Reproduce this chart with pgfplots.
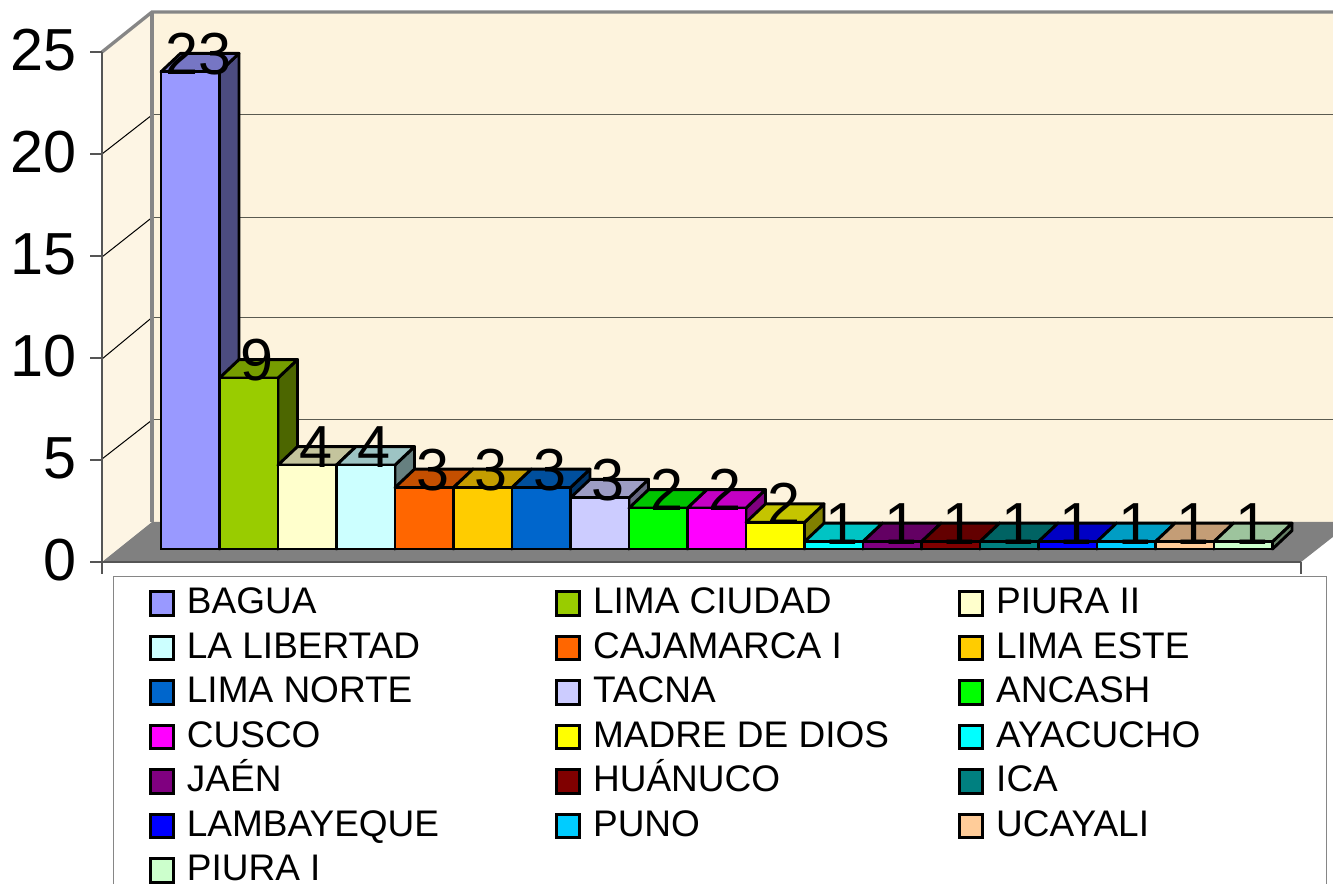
\documentclass[border=0pt]{standalone}
\usepackage{fontspec}
\setmainfont{Liberation Sans}
\usepackage{pgfplots}
\pgfplotsset{compat=1.18}
\definecolor{wall}{HTML}{FDF3DD}
\definecolor{floorc}{HTML}{808080}
\definecolor{edge}{HTML}{868686}
\definecolor{gridc}{HTML}{5A5A50}
\definecolor{axc}{HTML}{555555}
\definecolor{c0}{HTML}{9999FF}
\definecolor{c1}{HTML}{99CC00}
\definecolor{c2}{HTML}{FFFFCC}
\definecolor{c3}{HTML}{CCFFFF}
\definecolor{c4}{HTML}{FF6600}
\definecolor{c5}{HTML}{FFCC00}
\definecolor{c6}{HTML}{0066CC}
\definecolor{c7}{HTML}{CCCCFF}
\definecolor{c8}{HTML}{00FF00}
\definecolor{c9}{HTML}{FF00FF}
\definecolor{c10}{HTML}{FFFF00}
\definecolor{c11}{HTML}{00FFFF}
\definecolor{c12}{HTML}{800080}
\definecolor{c13}{HTML}{800000}
\definecolor{c14}{HTML}{008080}
\definecolor{c15}{HTML}{0000FF}
\definecolor{c16}{HTML}{00CCFF}
\definecolor{c17}{HTML}{FFCC99}
\definecolor{c18}{HTML}{CCFFCC}
\pgfplotsset{
  mybar/.style={ybar, bar width=1, bar shift=0pt, draw=black, line width=1.75pt,
    /pgfplots/legend image code/.code={%
      \draw[##1, line width=1.8pt] (0.8pt,-0.9pt) rectangle (14.6pt,13.1pt);
      \path[draw=none, fill=none] (0pt,0pt) -- (22.8pt,0pt);}},
}
% i, plotted value, colour, legend text, width of the legend text cell
\newcommand\threeD[5]{%
  \pgfmathsetmacro\xa{#1-0.5}\pgfmathsetmacro\xb{#1+0.5}%
  \pgfmathsetmacro\xc{#1+0.5+0.3333}\pgfmathsetmacro\xd{#1-0.5+0.3333}%
  \pgfmathsetmacro\ya{#2+0.9}%
  \addplot[forget plot, fill=#3!50!black, draw=black, line width=1.75pt, line join=round]
    coordinates {(\xb,0) (\xc,0.9) (\xc,\ya) (\xb,#2)} --cycle;
  \addplot[forget plot, fill=#3!77!black, draw=black, line width=1.75pt, line join=round]
    coordinates {(\xa,#2) (\xb,#2) (\xc,\ya) (\xd,\ya)} --cycle;
  \addplot[mybar, fill=#3] coordinates {(#1,#2)};
  \addlegendentry{\makebox[#5pt][l]{#4}}
}
\begin{document}
\begin{tikzpicture}
\path[use as bounding box, clip] (0,0) rectangle (799.8pt,529.8pt);
% walls and floor, in pixel positions
\begin{axis}[at={(0,0)}, anchor=south west, scale only axis, width=799.8pt, height=529.8pt,
  xmin=0, xmax=1333, ymin=0, ymax=883, y dir=reverse, hide axis, clip=false]
\addplot[fill=wall, draw=none] coordinates {(152,12) (1352,12) (1352,522) (152,522)} --cycle;
\addplot[fill=wall!80!white, draw=none] coordinates {(102,52) (152,12) (152,522) (102,562)} --cycle;
\addplot[fill=floorc, draw=none] coordinates {(102,562) (152,522) (1352,522) (1301,562)} --cycle;
\addplot[gridc, line width=0.6pt] coordinates {(152,115) (1340,115)};
\addplot[gridc, line width=0.6pt] coordinates {(152,217.5) (1340,217.5)};
\addplot[gridc, line width=0.6pt] coordinates {(152,317.5) (1340,317.5)};
\addplot[gridc, line width=0.6pt] coordinates {(152,420) (1340,420)};
\addplot[black, line width=0.6pt] coordinates {(102,154) (152,115)};
\addplot[black, line width=0.6pt] coordinates {(102,257) (152,217.5)};
\addplot[black, line width=0.6pt] coordinates {(102,359) (152,317.5)};
\addplot[black, line width=0.6pt] coordinates {(102,459) (152,420)};
\addplot[edge, line width=2pt] coordinates {(102,52) (152,12) (1340,12)};
\addplot[edge, line width=2pt] coordinates {(152,12) (152,522)};
\end{axis}
% front value axis
\begin{axis}[at={(61.2pt,192.6pt)}, anchor=south west, scale only axis, width=719.4pt, height=306pt,
  xmin=0, xmax=1, ymin=0, ymax=25, axis x line=bottom, axis y line=left,
  axis line style={-, axc, line width=0.9pt},
  ytick={0,5,10,15,20,25}, xtick={0,1}, xticklabels={},
  tick align=outside, major tick length=7pt,
  every tick/.style={axc, line width=0.9pt},
  yticklabel style={font=\fontsize{35.6}{35.6}\selectfont, inner sep=0pt, anchor=east, xshift=-7.8pt, yshift=0.9pt},
  ylabel={}, /pgf/number format/assume math mode=true, clip=false]
\end{axis}
% bars, data labels and legend
\begin{axis}[at={(0,0)}, anchor=south west, scale only axis, width=799.8pt, height=529.8pt,
  xmin=-3.2521, xmax=19.534, ymin=-16.309, ymax=26.807, hide axis, clip=false,
  legend columns=3,
  legend style={at={(0.08477,0.34768)}, anchor=north west, draw=edge, line width=0.9pt, fill=white,
    inner xsep=21pt, inner ysep=5.4pt,
    font=\fontsize{22.2}{22.2}\selectfont,
    nodes={inner sep=0pt, anchor=base west, text height=16.8pt, text depth=4.8pt},
    /tikz/row sep=5.1pt, /tikz/column sep=0pt},
  legend cell align=left]
\threeD{0}{23.3}{c0}{BAGUA}{220.8}
\threeD{1}{8.35}{c1}{LIMA CIUDAD}{219}
\threeD{2}{4.1}{c2}{PIURA II}{177}
\threeD{3}{4.1}{c3}{LA LIBERTAD}{220.8}
\threeD{4}{3}{c4}{CAJAMARCA I}{219}
\threeD{5}{3}{c5}{LIMA ESTE}{177}
\threeD{6}{3}{c6}{LIMA NORTE}{220.8}
\threeD{7}{2.5}{c7}{TACNA}{219}
\threeD{8}{2}{c8}{ANCASH}{177}
\threeD{9}{2}{c9}{CUSCO}{220.8}
\threeD{10}{1.3}{c10}{MADRE DE DIOS}{219}
\threeD{11}{0.36}{c11}{AYACUCHO}{177}
\threeD{12}{0.36}{c12}{JAÉN}{220.8}
\threeD{13}{0.36}{c13}{HUÁNUCO}{219}
\threeD{14}{0.36}{c14}{ICA}{177}
\threeD{15}{0.36}{c15}{LAMBAYEQUE}{220.8}
\threeD{16}{0.36}{c16}{PUNO}{219}
\threeD{17}{0.36}{c17}{UCAYALI}{177}
\threeD{18}{0.36}{c18}{PIURA I}{220.8}
\addplot[forget plot, draw=none, mark=none, nodes near coords, point meta=explicit symbolic,
  every node near coord/.style={font=\fontsize{35.6}{35.6}\selectfont, anchor=base, inner sep=0pt, xshift=5pt, yshift=-1.5pt}]
  coordinates {(0,23.3)[23] (1,8.35)[9] (2,4.1)[4] (3,4.1)[4] (4,3)[3] (5,3)[3] (6,3)[3] (7,2.5)[3]
    (8,2)[2] (9,2)[2] (10,1.3)[2] (11,0.36)[1] (12,0.36)[1] (13,0.36)[1] (14,0.36)[1] (15,0.36)[1]
    (16,0.36)[1] (17,0.36)[1] (18,0.36)[1]};
\end{axis}
\end{tikzpicture}
\end{document}
